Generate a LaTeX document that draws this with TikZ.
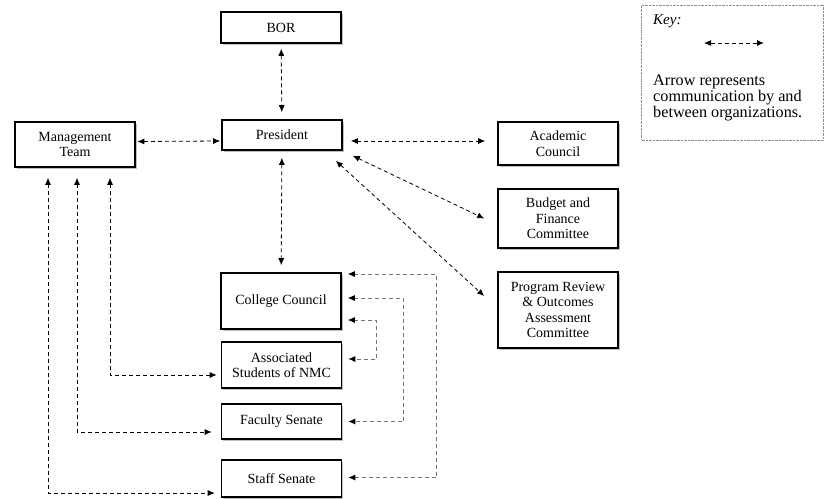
\documentclass[tikz,border=0pt]{standalone}
\usepackage{fontspec}
\setmainfont{Liberation Serif}
\usetikzlibrary{arrows.meta,shadows}

\tikzset{
  orgbox/.style={draw,line width=1.6pt,fill=white,minimum width=120pt,inner sep=2pt,
    align=center,font=\fontsize{14}{15.5}\selectfont,
    drop shadow={shadow xshift=1.5pt,shadow yshift=-1.5pt,fill=black!25,opacity=1}},
  link/.style={line width=0.8pt,dash pattern=on 4pt off 3pt,
    {Latex[length=7pt,width=6pt,color=black]}-{Latex[length=7pt,width=6pt,color=black]}},
  greylink/.style={link,draw=black!55}
}

\begin{document}
\begin{tikzpicture}[x=1pt,y=-1pt,line join=miter]
  \useasboundingbox (0,0) rectangle (824,498);

  % boxes
  \node[orgbox,minimum height=31pt] (bor)  at (281,27.5)  {BOR};
  \node[orgbox,minimum height=30pt] (pres) at (282,135)   {President};
  \node[orgbox,minimum height=45pt] (mgmt) at (75,144.5)  {Management\\Team};
  \node[orgbox,minimum height=43pt] (acad) at (558,143.5) {Academic\\Council};
  \node[orgbox,minimum height=59pt] (bfc)  at (558,218.5) {Budget and\\Finance\\Committee};
  \node[orgbox,minimum height=76pt] (proa) at (558,310)   {Program Review\\\& Outcomes\\Assessment\\Committee};
  \node[orgbox,minimum height=56pt] (coll) at (281,301)   {College Council};
  \node[orgbox,minimum height=46pt] (asnmc) at (281.5,365) {Associated\\Students of NMC};
  \node[orgbox,minimum height=35pt] (facs) at (281.5,421.5) {Faculty Senate};
  \node[orgbox,minimum height=37pt] (stfs) at (281.5,478.5) {Staff Senate};

  % key
  \node[draw=black!45,densely dotted,minimum width=182pt,minimum height=135pt] (key) at (732.5,72.5) {};
  \node[anchor=north west,inner sep=0pt,font=\fontsize{15}{16}\selectfont\itshape] (keyt) at (653,14) {Key:};
  \coordinate (ka) at (704,43);
  \coordinate (kb) at (764,43);
  \draw[link,line width=1pt] (ka) -- (kb);
  \node[anchor=north west,inner sep=0pt,align=left,font=\fontsize{16.2}{15.6}\selectfont] (keytxt) at (653,75)
    {Arrow represents\\communication by and\\between organizations.};

  % president links
  \draw[link,shorten <=5pt,shorten >=7pt] (bor) -- (pres);
  \draw[link,shorten <=7pt,shorten >=7pt] (pres) -- (coll);
  \draw[link] ([xshift=1.5pt,yshift=3pt]mgmt.east) -- ([xshift=-1pt,yshift=-6pt]pres.west);
  \draw[link] ([xshift=8pt,yshift=-6pt]pres.east) -- ([xshift=-12pt,yshift=2.5pt]acad.west);
  \draw[link] ([xshift=10pt,yshift=-5pt]pres.south east) -- ([xshift=-13pt]bfc.west);
  \draw[link] ([xshift=-7pt,yshift=-10pt]pres.south east) -- ([xshift=-13pt,yshift=14pt]proa.west);

  % management links
  \draw[link] ([xshift=35pt,yshift=-10pt]mgmt.south) |- ([xshift=-4pt,yshift=-10pt]asnmc.west);
  \draw[link] ([xshift=2pt,yshift=-10pt]mgmt.south) |- ([xshift=-9pt,yshift=-10.5pt]facs.west);
  \draw[link] ([xshift=-27pt,yshift=-10pt]mgmt.south) |- ([xshift=-6pt,yshift=-14.5pt]stfs.west);

  % college council links
  \draw[greylink] ([xshift=6pt,yshift=-19pt]coll.east) -- ++(29,0) |- ([xshift=6pt,yshift=6pt]asnmc.east);
  \draw[greylink] ([xshift=6pt,yshift=3pt]coll.east) -- ++(56,0) |- ([xshift=6pt]facs.east);
  \draw[greylink] ([xshift=6pt,yshift=27pt]coll.east) -- ++(89,0) |- ([xshift=6pt,yshift=1pt]stfs.east);
\end{tikzpicture}
\end{document}
